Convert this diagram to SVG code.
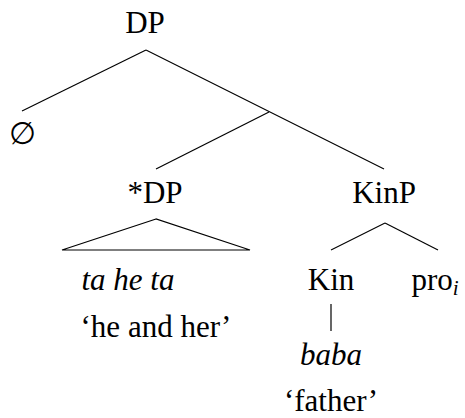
<svg xmlns="http://www.w3.org/2000/svg" width="465" height="418" viewBox="0 0 465 418">
<style>
text{font-family:serif;font-size:31px;fill:#000;text-anchor:middle}
.it{font-style:italic}
.sub{font-size:21px;font-style:italic}
line,polygon{stroke:#000;stroke-width:1.2;fill:none}
</style>
<rect width="465" height="418" fill="#fff"/>
<g id="connectors">
<line x1="146" y1="50" x2="22" y2="111"/>
<line x1="146" y1="50" x2="384" y2="169"/>
<line x1="269" y1="112" x2="156" y2="169"/>
<polygon points="156,219 62,250 250,250"/>
<line x1="385" y1="223" x2="331" y2="250"/>
<line x1="385" y1="223" x2="438" y2="250"/>
<line x1="331" y1="304" x2="331" y2="331"/>
</g>
<g id="n-DP"><text x="145" y="33">DP</text></g>
<g id="n-empty"><text x="22" y="144">∅</text></g>
<g id="n-starDP"><text x="155" y="203">*DP</text></g>
<g id="n-KinP"><text x="384" y="203">KinP</text></g>
<g id="n-taheta"><text class="it" x="128" y="290">ta he ta</text><text x="156" y="337">‘he and her’</text></g>
<g id="n-Kin"><text x="331" y="290">Kin</text></g>
<g id="n-pro"><text x="435" y="290">pro<tspan class="sub" dy="5">i</tspan></text></g>
<g id="n-baba"><text class="it" x="331" y="365">baba</text><text x="331" y="411">‘father’</text></g>
</svg>
